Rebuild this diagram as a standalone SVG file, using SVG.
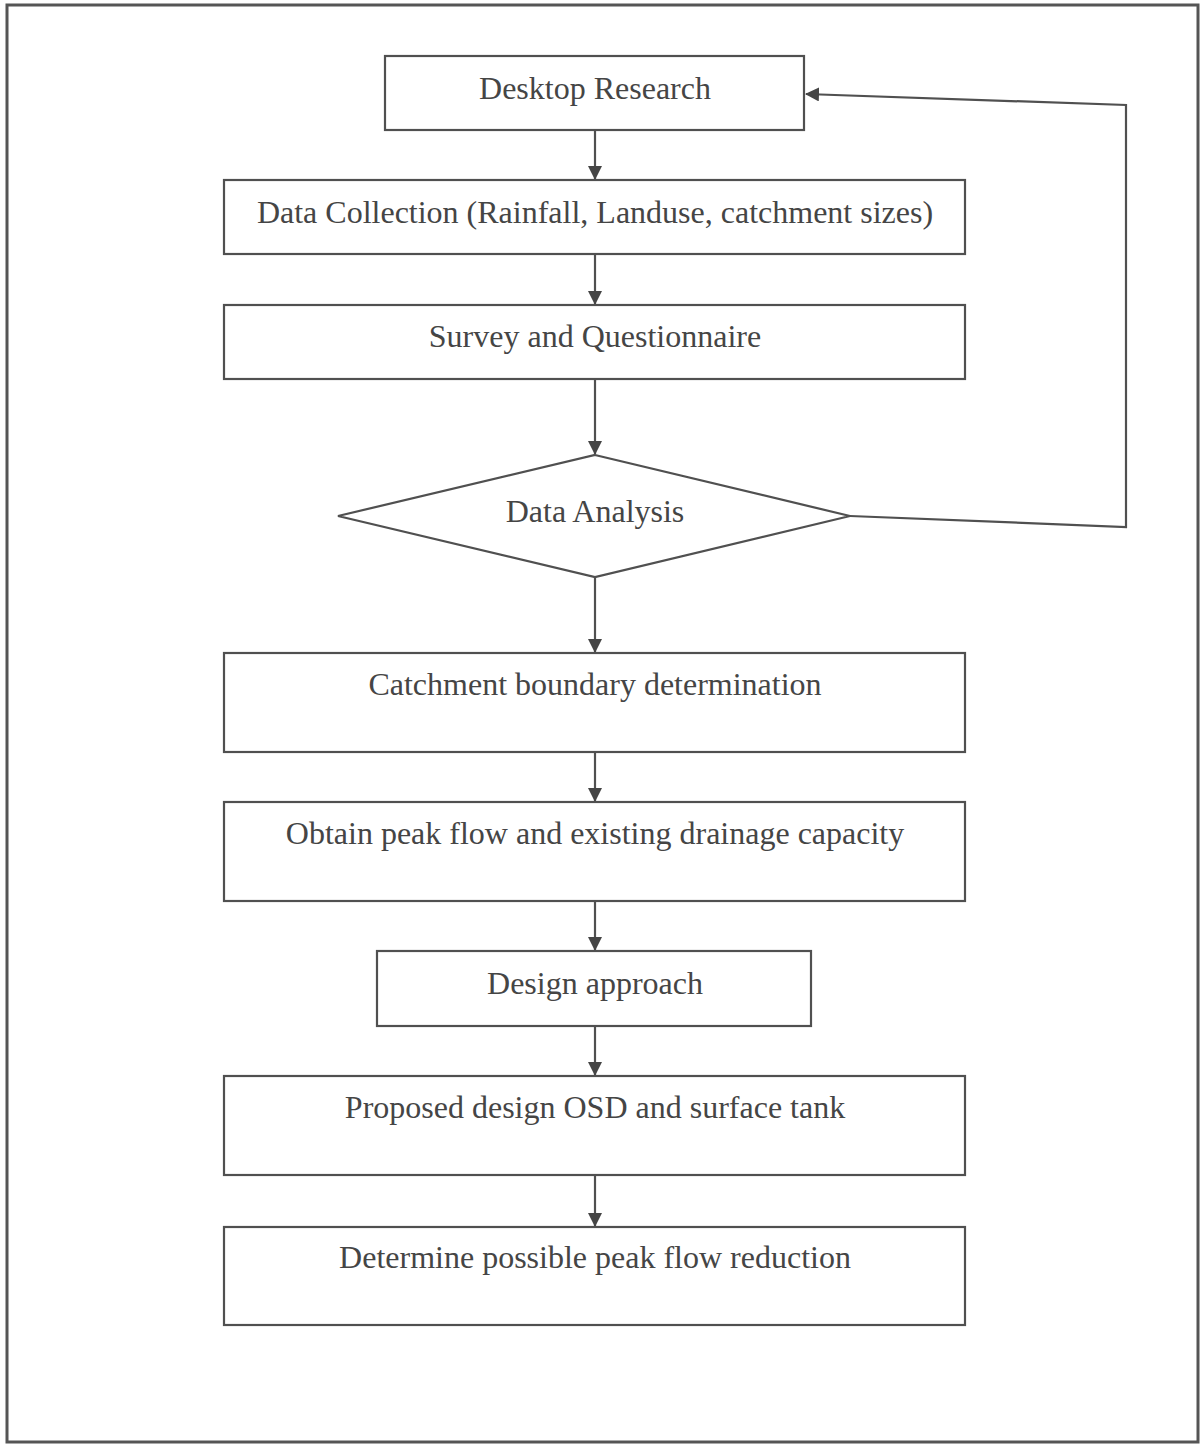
<svg xmlns="http://www.w3.org/2000/svg" width="1203" height="1446" viewBox="0 0 1203 1446">
<style>
.box{fill:#fff;stroke:#505050;stroke-width:2.2}
.lbl{font-family:"Liberation Serif","Times New Roman",serif;font-size:32px;fill:#454545;text-anchor:middle}
.edge{fill:none;stroke:#505050;stroke-width:2.2}
</style>
<defs>
<marker id="ah" markerWidth="14" markerHeight="14" refX="13" refY="7" orient="auto" markerUnits="userSpaceOnUse">
<path d="M0,0 L14,7 L0,14 Z" fill="#454545"/>
</marker>
</defs>
<rect x="0" y="0" width="1203" height="1446" fill="#fff"/>
<rect x="7" y="5" width="1191" height="1437" fill="none" stroke="#555" stroke-width="3"/>
<g id="connectors">
<line class="edge" x1="595" y1="130" x2="595" y2="179" marker-end="url(#ah)"/>
<line class="edge" x1="595" y1="254" x2="595" y2="304" marker-end="url(#ah)"/>
<line class="edge" x1="595" y1="379" x2="595" y2="454" marker-end="url(#ah)"/>
<line class="edge" x1="595" y1="577" x2="595" y2="652" marker-end="url(#ah)"/>
<line class="edge" x1="595" y1="752" x2="595" y2="801" marker-end="url(#ah)"/>
<line class="edge" x1="595" y1="901" x2="595" y2="950" marker-end="url(#ah)"/>
<line class="edge" x1="595" y1="1026" x2="595" y2="1075" marker-end="url(#ah)"/>
<line class="edge" x1="595" y1="1175" x2="595" y2="1226" marker-end="url(#ah)"/>
<polyline class="edge" points="850,516 1126,527 1126,105 806,94" marker-end="url(#ah)"/>
</g>
<g id="n1"><rect class="box" x="385" y="56" width="419" height="74"/><text class="lbl" x="595" y="99">Desktop Research</text></g>
<g id="n2"><rect class="box" x="224" y="180" width="741" height="74"/><text class="lbl" x="595" y="223">Data Collection (Rainfall, Landuse, catchment sizes)</text></g>
<g id="n3"><rect class="box" x="224" y="305" width="741" height="74"/><text class="lbl" x="595" y="347">Survey and Questionnaire</text></g>
<g id="n4"><polygon class="box" points="595,455 850,516 595,577 338,516"/><text class="lbl" x="595" y="522">Data Analysis</text></g>
<g id="n5"><rect class="box" x="224" y="653" width="741" height="99"/><text class="lbl" x="595" y="695">Catchment boundary determination</text></g>
<g id="n6"><rect class="box" x="224" y="802" width="741" height="99"/><text class="lbl" x="595" y="844">Obtain peak flow and existing drainage capacity</text></g>
<g id="n7"><rect class="box" x="377" y="951" width="434" height="75"/><text class="lbl" x="595" y="994">Design approach</text></g>
<g id="n8"><rect class="box" x="224" y="1076" width="741" height="99"/><text class="lbl" x="595" y="1118">Proposed design OSD and surface tank</text></g>
<g id="n9"><rect class="box" x="224" y="1227" width="741" height="98"/><text class="lbl" x="595" y="1268">Determine possible peak flow reduction</text></g>
</svg>
